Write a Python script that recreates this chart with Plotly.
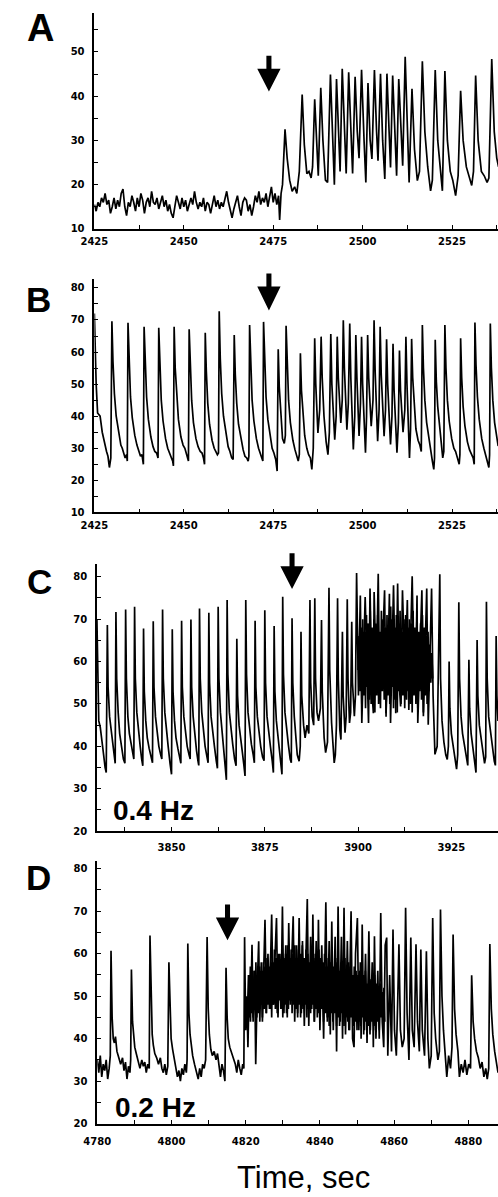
import plotly.graph_objects as go

W, H = 498, 1197

# ---------------- data (time [s], value) ----------------
A_trace = [
    (2425.0, 15.5), (2425.5, 14.0), (2426.0, 16.0), (2426.5, 15.0), (2427.0, 17.0), (2427.5, 16.0), (2428.0, 18.0),
    (2428.5, 15.5), (2429.0, 16.5), (2429.5, 13.5), (2430.0, 15.0), (2430.5, 17.0), (2431.0, 14.5), (2431.5, 16.5),
    (2432.0, 15.0), (2432.5, 18.0), (2433.0, 19.0), (2433.5, 15.0), (2434.0, 13.0), (2434.5, 16.0), (2435.0, 15.0),
    (2435.5, 17.5), (2436.0, 16.0), (2436.5, 14.0), (2437.0, 17.0), (2437.5, 15.0), (2438.0, 18.0), (2438.5, 16.5),
    (2439.0, 13.5), (2439.5, 16.0), (2440.0, 17.0), (2440.5, 15.0), (2441.0, 18.5), (2441.5, 16.0), (2442.0, 15.5),
    (2442.5, 17.0), (2443.0, 14.5), (2443.5, 16.0), (2444.0, 17.5), (2444.5, 15.0), (2445.0, 16.5), (2445.5, 14.0),
    (2446.0, 15.5), (2446.5, 13.5), (2447.0, 12.5), (2447.5, 15.0), (2448.0, 17.5), (2448.5, 16.0), (2449.0, 14.5),
    (2449.5, 17.0), (2450.0, 15.0), (2450.5, 16.5), (2451.0, 14.0), (2451.5, 15.5), (2452.0, 17.0), (2452.5, 15.5),
    (2453.0, 18.5), (2453.5, 16.0), (2454.0, 14.5), (2454.5, 16.0), (2455.0, 15.0), (2455.5, 17.0), (2456.0, 14.0),
    (2456.5, 16.0), (2457.0, 15.5), (2457.5, 13.5), (2458.0, 16.0), (2458.5, 17.5), (2459.0, 15.0), (2459.5, 16.5),
    (2460.0, 14.5), (2460.5, 16.0), (2461.0, 15.0), (2461.5, 17.0), (2462.0, 18.5), (2462.5, 16.0), (2463.0, 14.0),
    (2463.5, 12.5), (2464.0, 14.5), (2464.5, 16.0), (2465.0, 17.5), (2465.5, 15.0), (2466.0, 13.0), (2466.5, 16.0),
    (2467.0, 17.0), (2467.5, 16.5), (2468.0, 14.0), (2468.5, 15.5), (2469.0, 13.0), (2469.5, 15.0), (2470.0, 17.5),
    (2470.5, 16.0), (2471.0, 18.5), (2471.5, 15.5), (2472.0, 17.0), (2472.5, 16.0), (2473.0, 18.0), (2473.5, 15.0),
    (2474.0, 17.5), (2474.5, 19.5), (2475.0, 16.0), (2475.5, 18.0), (2476.0, 15.5), (2476.5, 17.5), (2476.8, 12.0),
    (2477.2, 18.0), (2477.6, 20.0),
    (2478.3, 32.5), (2478.9, 26.0), (2479.6, 21.0), (2480.3, 18.5), (2481.0, 19.5), (2481.6, 18.0), (2482.3, 23.0),
    (2483.1, 40.4), (2483.7, 29.0), (2484.4, 22.5), (2485.0, 23.0), (2485.6, 21.5), (2486.0, 24.0),
    (2486.6, 39.3), (2487.2, 28.0), (2487.6, 22.0),
    (2488.3, 41.9), (2488.9, 30.0), (2489.6, 21.0), (2490.2, 20.5),
    (2491.0, 44.9), (2491.6, 31.0), (2492.1, 20.0),
    (2492.7, 43.9), (2493.3, 30.0), (2493.7, 23.0),
    (2494.3, 46.2), (2494.9, 32.0), (2495.4, 22.5),
    (2496.1, 45.4), (2496.7, 30.0), (2497.2, 22.5),
    (2497.9, 44.4), (2498.5, 32.0), (2499.0, 26.0),
    (2499.7, 46.0), (2500.4, 30.0), (2500.9, 20.5),
    (2501.5, 43.0), (2502.1, 30.0), (2502.6, 25.8),
    (2503.3, 45.9), (2503.9, 32.0), (2504.3, 25.4),
    (2505.0, 45.1), (2505.6, 30.0), (2506.2, 21.3),
    (2506.8, 45.1), (2507.4, 32.0), (2507.8, 23.9),
    (2508.4, 44.7), (2509.0, 30.0), (2509.5, 22.0),
    (2510.1, 43.9), (2510.7, 31.0), (2511.2, 24.3),
    (2511.9, 48.9), (2512.5, 32.0), (2513.0, 20.5),
    (2513.8, 41.7), (2514.5, 28.0), (2515.3, 20.9), (2515.9, 23.0),
    (2516.7, 47.9), (2517.4, 32.0), (2518.2, 24.0), (2519.0, 18.6), (2519.5, 21.0),
    (2520.3, 45.9), (2521.0, 30.0), (2521.8, 22.0), (2522.3, 18.6),
    (2523.0, 45.7), (2523.7, 30.0), (2524.5, 23.0), (2525.2, 21.0), (2526.0, 17.5), (2526.7, 22.0),
    (2527.4, 41.2), (2528.1, 30.0), (2529.0, 24.0), (2529.8, 22.0), (2530.5, 19.8), (2531.0, 23.0),
    (2531.6, 44.7), (2532.3, 30.0), (2533.2, 23.0), (2534.0, 22.0), (2534.8, 20.5), (2535.3, 21.5),
    (2536.1, 48.4), (2536.8, 32.0), (2537.5, 26.0), (2538.0, 24.0),
]

B_trace = [
    (2425.0, 72.0), (2425.2, 62.0), (2425.5, 50.0), (2425.9, 41.0), (2426.6, 40.0), (2427.2, 35.0), (2427.9, 31.0),
    (2428.4, 29.0), (2428.8, 27.5), (2429.2, 24.0), (2429.6, 27.0),
    (2429.9, 69.6), (2430.2, 57.0), (2430.6, 47.0), (2431.1, 40.0), (2431.8, 34.5), (2432.4, 31.0), (2432.8, 30.0),
    (2433.2, 28.0), (2433.6, 27.0), (2434.0, 28.0), (2434.2, 26.0),
    (2434.4, 69.1), (2434.7, 56.0), (2435.1, 46.0), (2435.6, 39.5), (2436.3, 34.0), (2436.9, 31.0), (2437.4, 29.5),
    (2437.9, 27.5), (2438.3, 28.0), (2438.7, 25.0),
    (2438.9, 67.9), (2439.2, 55.0), (2439.6, 46.0), (2440.1, 39.0), (2440.8, 33.5), (2441.4, 30.5), (2441.9, 29.0),
    (2442.4, 28.5), (2442.8, 27.0),
    (2443.0, 67.6), (2443.3, 55.0), (2443.7, 45.0), (2444.2, 38.5), (2444.9, 33.0), (2445.5, 30.0), (2446.0, 28.5),
    (2446.5, 27.0), (2446.9, 26.0), (2447.1, 24.5),
    (2447.3, 67.9), (2447.6, 55.0), (2448.0, 46.0), (2448.5, 39.0), (2449.2, 33.5), (2449.8, 31.0), (2450.3, 30.0),
    (2450.8, 28.0), (2451.3, 26.0),
    (2451.5, 67.1), (2451.8, 55.0), (2452.2, 45.0), (2452.7, 38.0), (2453.4, 33.0), (2454.0, 30.5), (2454.6, 29.0),
    (2455.1, 28.5), (2455.5, 27.0), (2455.8, 25.0),
    (2456.0, 66.0), (2456.3, 54.0), (2456.7, 44.0), (2457.2, 37.5), (2457.9, 32.5), (2458.5, 30.0), (2459.0, 29.0),
    (2459.4, 28.0), (2459.7, 28.5),
    (2459.9, 72.7), (2460.2, 58.0), (2460.6, 47.0), (2461.1, 40.0), (2461.8, 34.0), (2462.4, 30.5), (2462.9, 29.0),
    (2463.4, 27.0), (2463.8, 26.5),
    (2464.1, 65.3), (2464.4, 53.0), (2464.8, 44.0), (2465.3, 37.5), (2466.0, 32.5), (2466.6, 29.5), (2467.1, 27.5),
    (2467.6, 27.0), (2468.0, 26.0), (2468.2, 27.5),
    (2468.4, 68.4), (2468.7, 55.0), (2469.1, 45.0), (2469.6, 38.5), (2470.3, 33.0), (2470.9, 30.0), (2471.4, 28.0),
    (2471.8, 27.0), (2472.1, 26.0),
    (2472.3, 69.4), (2472.6, 56.0), (2473.0, 46.0), (2473.5, 39.0), (2474.2, 33.0), (2474.7, 30.0), (2475.2, 28.5),
    (2475.7, 26.5), (2476.1, 22.9),
    (2476.4, 60.9), (2476.7, 49.0), (2477.1, 40.0), (2477.6, 33.0), (2478.1, 31.5), (2478.4, 34.0),
    (2478.6, 68.2), (2478.9, 55.0), (2479.3, 45.0), (2479.8, 38.0), (2480.5, 32.5), (2481.1, 29.5), (2481.6, 27.5),
    (2482.0, 26.0), (2482.3, 28.0),
    (2482.6, 59.6), (2482.9, 48.0), (2483.3, 40.0), (2483.8, 34.0), (2484.4, 30.0), (2484.9, 28.0), (2485.4, 27.0),
    (2485.8, 23.4), (2486.2, 30.0),
    (2486.6, 64.3), (2486.9, 50.0), (2487.5, 34.8), (2488.0, 42.0),
    (2488.4, 64.8), (2488.7, 52.0), (2489.2, 40.0), (2489.8, 32.0), (2490.3, 28.0), (2490.7, 35.0),
    (2491.1, 65.6), (2491.4, 50.0), (2492.2, 32.7), (2492.6, 40.0),
    (2492.9, 64.8), (2493.2, 52.0), (2493.9, 37.9), (2494.3, 45.0),
    (2494.6, 69.9), (2494.9, 55.0), (2495.6, 35.8), (2496.0, 44.0),
    (2496.4, 68.9), (2496.7, 52.0), (2497.4, 29.6), (2497.8, 40.0),
    (2498.1, 65.3), (2498.4, 52.0), (2499.0, 33.8), (2499.4, 44.0),
    (2499.7, 64.8), (2500.0, 50.0), (2500.8, 28.6), (2501.1, 40.0),
    (2501.4, 65.3), (2501.7, 52.0), (2502.4, 36.9), (2502.9, 45.0),
    (2503.2, 69.9), (2503.5, 54.0), (2504.2, 32.2), (2504.6, 42.0),
    (2504.9, 67.9), (2505.2, 53.0), (2506.0, 33.8), (2506.4, 42.0),
    (2506.7, 64.0), (2507.0, 50.0), (2507.8, 31.2), (2508.2, 40.0),
    (2508.5, 62.6), (2508.8, 48.0), (2509.6, 28.6), (2510.0, 38.0),
    (2510.3, 60.5), (2510.6, 48.0), (2511.3, 35.0), (2511.8, 42.0),
    (2512.1, 64.8), (2512.4, 50.0), (2513.1, 27.0), (2513.4, 36.0),
    (2513.7, 64.1), (2514.0, 52.0), (2514.4, 43.0), (2514.9, 36.0), (2515.5, 32.5), (2516.0, 31.0), (2516.4, 29.0),
    (2516.7, 68.4), (2517.0, 55.0), (2517.4, 45.0), (2517.9, 38.0), (2518.5, 33.0), (2519.0, 30.5), (2519.5, 26.0),
    (2519.9, 23.4), (2520.1, 27.0),
    (2520.3, 63.8), (2520.6, 51.0), (2521.0, 43.0), (2521.5, 36.5), (2522.0, 31.0), (2522.4, 27.0), (2522.7, 29.0),
    (2523.0, 68.4), (2523.3, 55.0), (2523.7, 45.0), (2524.2, 38.5), (2524.9, 33.0), (2525.5, 30.0), (2526.0, 29.0),
    (2526.5, 27.0), (2527.0, 25.0), (2527.2, 28.0),
    (2527.4, 64.3), (2527.7, 52.0), (2528.1, 43.0), (2528.6, 37.0), (2529.3, 32.0), (2529.9, 29.5), (2530.4, 28.0),
    (2530.9, 27.0), (2531.2, 25.0),
    (2531.4, 69.2), (2531.7, 56.0), (2532.1, 46.0), (2532.6, 39.0), (2533.3, 33.0), (2533.9, 30.0), (2534.4, 28.0),
    (2534.9, 26.0), (2535.3, 24.0), (2535.5, 28.0),
    (2535.7, 68.9), (2536.0, 55.0), (2536.4, 45.0), (2536.9, 38.0), (2537.5, 33.0), (2537.9, 30.7),
]

C_trace = [
    (3830.0, 70.0), (3830.2, 55.0), (3830.5, 46.0), (3830.9, 44.5), (3831.3, 42.0), (3831.8, 38.0), (3832.2, 35.0), (3832.5, 33.8),
    (3832.8, 68.6), (3833.0, 54.0), (3833.4, 47.0), (3833.8, 44.0), (3834.2, 40.0), (3834.6, 37.5), (3834.9, 36.0),
    (3835.1, 71.7), (3835.3, 56.0), (3835.7, 48.0), (3836.1, 43.0), (3836.6, 40.0), (3837.1, 37.0), (3837.5, 36.0),
    (3837.7, 72.3), (3837.9, 56.0), (3838.3, 47.0), (3838.7, 43.0), (3839.2, 40.0), (3839.6, 38.0), (3839.9, 37.0),
    (3840.1, 72.9), (3840.3, 56.0), (3840.7, 48.0), (3841.1, 43.5), (3841.6, 40.0), (3842.0, 37.0), (3842.3, 35.4),
    (3842.5, 67.8), (3842.7, 53.0), (3843.1, 46.0), (3843.5, 42.0), (3844.0, 39.5), (3844.5, 37.5), (3844.9, 36.1),
    (3845.1, 69.5), (3845.3, 54.0), (3845.7, 47.0), (3846.1, 43.0), (3846.6, 40.0), (3847.1, 38.0), (3847.4, 37.0),
    (3847.6, 72.3), (3847.8, 56.0), (3848.2, 48.0), (3848.6, 43.5), (3849.1, 40.0), (3849.6, 36.0), (3850.0, 33.4),
    (3850.2, 67.6), (3850.4, 53.0), (3850.8, 46.0), (3851.2, 42.0), (3851.7, 39.5), (3852.2, 37.0), (3852.5, 36.0),
    (3852.7, 69.6), (3852.9, 54.0), (3853.3, 47.0), (3853.7, 43.0), (3854.2, 40.0), (3854.7, 38.0), (3855.0, 37.0),
    (3855.2, 69.9), (3855.4, 54.0), (3855.8, 47.0), (3856.2, 42.5), (3856.7, 39.0), (3857.1, 36.5), (3857.3, 35.5),
    (3857.5, 72.5), (3857.7, 56.0), (3858.1, 48.0), (3858.5, 43.5), (3859.0, 40.0), (3859.5, 37.5), (3859.8, 36.1),
    (3860.0, 71.5), (3860.2, 55.0), (3860.6, 47.0), (3861.0, 43.0), (3861.5, 40.0), (3862.0, 36.5), (3862.3, 34.8),
    (3862.5, 72.9), (3862.7, 56.0), (3863.1, 48.0), (3863.5, 43.5), (3864.0, 40.0), (3864.4, 35.0), (3864.7, 32.1),
    (3864.9, 74.5), (3865.1, 57.0), (3865.5, 48.0), (3865.9, 44.0), (3866.4, 40.5), (3866.9, 37.0), (3867.3, 35.4),
    (3867.5, 65.4), (3867.7, 52.0), (3868.1, 45.0), (3868.5, 41.5), (3869.0, 38.5), (3869.4, 35.5), (3869.7, 33.0),
    (3869.9, 74.5), (3870.1, 57.0), (3870.5, 48.0), (3870.9, 44.0), (3871.4, 40.5), (3871.9, 38.0), (3872.2, 36.1),
    (3872.4, 69.6), (3872.6, 54.0), (3873.0, 47.0), (3873.4, 43.0), (3873.9, 40.0), (3874.4, 37.5), (3874.8, 36.6),
    (3875.0, 72.1), (3875.2, 55.0), (3875.6, 47.0), (3876.0, 43.0), (3876.5, 40.0), (3877.0, 36.5), (3877.3, 33.8),
    (3877.5, 68.4), (3877.7, 53.0), (3878.1, 46.0), (3878.5, 42.5), (3879.0, 39.0), (3879.4, 35.0), (3879.6, 33.4),
    (3879.8, 75.3), (3880.0, 57.0), (3880.4, 48.0), (3880.8, 44.0), (3881.3, 40.5), (3881.8, 37.0), (3882.1, 36.1),
    (3882.3, 70.2), (3882.5, 55.0), (3882.9, 47.0), (3883.3, 43.0), (3883.7, 38.0), (3884.2, 36.5), (3884.5, 40.0),
    (3884.7, 67.0), (3884.9, 52.0), (3885.4, 45.0), (3885.8, 42.0), (3886.3, 45.0), (3886.8, 43.0),
    (3887.1, 74.5), (3887.3, 55.0), (3887.7, 47.0), (3888.1, 45.0),
    (3888.4, 74.9), (3888.6, 56.0), (3889.0, 48.0), (3889.4, 46.0), (3889.9, 49.0),
    (3890.2, 69.8), (3890.4, 53.0), (3890.9, 42.0), (3891.3, 38.5), (3891.8, 41.0),
    (3892.2, 77.4), (3892.4, 58.0), (3892.9, 45.5), (3893.3, 40.0), (3893.6, 36.1), (3893.9, 38.0), (3894.2, 45.0),
    (3894.5, 74.9), (3894.7, 56.0), (3895.1, 44.0), (3895.4, 41.6),
    (3895.8, 67.0), (3896.0, 52.0), (3896.5, 43.2), (3896.8, 47.0),
    (3897.1, 74.7), (3897.3, 56.0), (3897.7, 45.5), (3898.0, 48.0),
    (3898.3, 69.4), (3898.5, 55.0), (3899.0, 47.1), (3899.3, 52.0),
    (3899.6, 80.9), (3900.1, 52.0), (3900.6, 75.6), (3901.0, 45.5), (3901.9, 75.2), (3902.4, 55.0), (3902.8, 45.5),
    (3903.2, 77.2), (3903.7, 53.0), (3904.1, 47.8), (3904.3, 76.4), (3904.9, 55.0), (3905.4, 80.7), (3905.8, 50.9),
    (3906.5, 62.0), (3907.1, 76.8), (3907.5, 47.8), (3908.0, 60.0), (3908.4, 76.0), (3908.7, 45.5), (3909.5, 78.0),
    (3910.1, 47.8), (3910.6, 78.4), (3911.0, 55.0), (3911.4, 49.4), (3911.9, 76.8), (3912.6, 55.0), (3913.2, 74.5),
    (3913.6, 48.6), (3914.5, 80.1), (3915.0, 54.0), (3915.5, 60.0), (3915.8, 75.6), (3916.0, 45.5), (3917.1, 76.8),
    (3917.5, 47.1), (3918.4, 77.2), (3918.8, 45.1), (3919.7, 77.2), (3920.1, 52.0), (3920.6, 38.1), (3921.2, 40.0),
    (3921.9, 80.6), (3922.1, 56.0), (3922.5, 46.0), (3923.0, 41.0), (3923.5, 38.0), (3923.9, 36.9), (3924.2, 40.0),
    (3924.4, 60.0), (3924.6, 49.0), (3925.0, 43.0), (3925.5, 40.0), (3926.0, 37.0), (3926.4, 34.6), (3926.7, 38.0),
    (3927.0, 74.0), (3927.2, 56.0), (3927.6, 47.0), (3928.0, 43.0), (3928.5, 40.0), (3929.0, 37.0), (3929.4, 35.5),
    (3929.7, 60.4), (3929.9, 49.0), (3930.3, 43.0), (3930.8, 39.0), (3931.3, 35.0), (3931.6, 33.8),
    (3931.9, 65.1), (3932.1, 52.0), (3932.5, 45.0), (3933.0, 41.0), (3933.5, 38.5), (3933.9, 36.0), (3934.2, 37.5),
    (3934.4, 74.1), (3934.6, 56.0), (3935.0, 47.0), (3935.5, 43.0), (3936.0, 40.0), (3936.5, 36.5), (3936.8, 35.5),
    (3937.0, 66.0), (3937.2, 52.0), (3937.5, 46.0),
]
# fast (unresolved) oscillation during the dense burst, sampled every 0.25 s from 3900.0 s
C_fast_start, C_fast_step = 3900.0, 0.25
C_fast_vals = [
    58, 66, 53, 68, 50, 70, 52, 67, 49, 71, 54, 69, 51, 72, 50, 68, 53, 70, 48, 69,
    52, 71, 50, 67, 49, 72, 53, 70, 51, 68, 47, 71, 52, 69, 50, 73, 54, 70, 49, 68,
    51, 71, 48, 69, 53, 72, 50, 67, 52, 70, 49, 71, 51, 68, 53, 70, 50, 69, 48, 72,
    52, 68, 50, 70, 49, 67, 53, 69, 51, 71, 48, 68, 52, 66, 50, 67, 53, 64, 55, 62, 56,
]

D_trace = [
    (4780.0, 35.0), (4780.4, 32.0), (4780.8, 36.0), (4781.2, 31.0), (4781.6, 34.0), (4782.0, 32.5), (4782.4, 35.0),
    (4782.8, 30.5), (4783.2, 33.0), (4783.5, 36.0),
    (4783.7, 60.7), (4784.0, 45.0), (4784.3, 40.0), (4784.6, 39.0), (4784.9, 40.5), (4785.3, 37.0), (4785.8, 35.5),
    (4786.3, 34.0), (4786.8, 35.5), (4787.2, 32.5), (4787.6, 34.5), (4788.0, 30.5), (4788.4, 33.5), (4788.8, 32.0),
    (4789.0, 35.0),
    (4789.2, 56.3), (4789.5, 44.0), (4789.8, 41.0), (4790.1, 38.0), (4790.5, 36.5), (4791.0, 35.0), (4791.5, 33.0),
    (4792.0, 35.0), (4792.4, 33.5), (4792.8, 34.5), (4793.2, 32.0), (4793.6, 34.0), (4794.0, 33.0),
    (4794.2, 64.3), (4794.5, 48.0), (4794.8, 41.0), (4795.1, 38.5), (4795.5, 36.5), (4796.0, 35.5), (4796.5, 34.0),
    (4797.0, 35.5), (4797.4, 33.0), (4797.8, 32.0), (4798.2, 34.0), (4798.6, 31.5), (4799.0, 33.5),
    (4799.3, 58.0), (4799.6, 45.0), (4799.9, 40.0), (4800.3, 37.5), (4800.7, 35.0), (4801.2, 33.0), (4801.6, 31.0),
    (4802.0, 32.5), (4802.4, 30.0), (4802.8, 33.0), (4803.2, 31.5), (4803.6, 34.0), (4804.0, 32.0), (4804.2, 35.0),
    (4804.4, 62.4), (4804.7, 46.0), (4805.0, 41.0), (4805.3, 38.0), (4805.7, 36.0), (4806.2, 34.0), (4806.7, 32.0),
    (4807.2, 30.5), (4807.6, 33.0), (4808.0, 31.0), (4808.4, 34.0), (4808.8, 33.0), (4809.2, 35.0),
    (4809.6, 63.9), (4809.9, 47.0), (4810.2, 41.0), (4810.6, 37.5), (4811.0, 36.0), (4811.5, 37.0), (4812.0, 35.0),
    (4812.4, 36.5), (4812.8, 33.5), (4813.2, 31.0), (4813.6, 34.0), (4814.0, 32.5), (4814.4, 30.0),
    (4814.7, 56.7), (4815.0, 45.0), (4815.3, 40.0), (4815.7, 38.0), (4816.2, 36.5), (4816.7, 35.0), (4817.2, 34.0),
    (4817.6, 32.0), (4818.0, 35.0), (4818.4, 33.0), (4818.8, 31.5), (4819.2, 34.0), (4819.5, 33.0),
    (4819.7, 63.9), (4820.0, 42.0), (4820.3, 50.0), (4820.6, 38.0), (4821.0, 55.0), (4821.3, 44.0), (4821.7, 62.1),
    (4822.0, 45.0), (4822.4, 56.0), (4822.7, 34.0), (4823.1, 52.0), (4823.5, 62.9), (4823.8, 44.0), (4824.2, 58.0),
    (4824.5, 44.0), (4825.2, 68.0), (4825.6, 46.0), (4826.0, 60.0), (4826.4, 47.0), (4827.0, 69.2), (4827.4, 48.0),
    (4827.9, 62.0), (4828.3, 68.4), (4828.7, 45.0), (4829.2, 60.0), (4829.5, 47.0), (4829.9, 71.1), (4830.3, 46.0),
    (4830.8, 62.0), (4831.2, 45.0), (4831.6, 67.2), (4832.0, 48.0), (4832.4, 60.0), (4832.8, 68.8), (4833.2, 44.0),
    (4833.7, 62.0), (4834.0, 46.0), (4834.4, 68.4), (4834.8, 45.0), (4835.3, 63.0), (4835.8, 43.0), (4836.2, 60.0),
    (4836.6, 72.9), (4837.0, 43.0), (4837.5, 64.0), (4837.8, 47.0), (4838.1, 69.2), (4838.5, 44.0), (4839.0, 63.0),
    (4839.3, 45.0), (4839.6, 68.0), (4840.0, 42.0), (4840.5, 62.0), (4841.0, 40.0), (4841.6, 72.1), (4842.0, 44.0),
    (4842.5, 63.0), (4842.8, 41.0), (4843.2, 67.6), (4843.6, 42.0), (4844.1, 64.0), (4844.5, 37.0), (4844.9, 71.1),
    (4845.3, 43.0), (4845.8, 64.0), (4846.1, 40.0), (4846.5, 70.8), (4846.9, 41.0), (4847.4, 63.0), (4847.8, 42.0),
    (4848.4, 70.0), (4848.8, 40.0), (4849.2, 38.0), (4849.6, 60.0), (4850.1, 68.4), (4850.5, 42.0), (4850.9, 58.0),
    (4851.1, 40.0), (4851.4, 66.9), (4851.8, 41.0), (4852.3, 60.0), (4852.7, 39.0), (4853.2, 65.3), (4853.6, 42.0),
    (4854.1, 58.0), (4854.4, 38.0), (4854.7, 64.1), (4855.1, 40.0), (4855.6, 56.0), (4856.0, 40.0), (4856.4, 69.6),
    (4856.8, 44.0), (4857.2, 38.0), (4857.6, 62.0), (4858.0, 63.8), (4858.3, 36.0), (4858.8, 55.0), (4859.3, 37.0),
    (4859.7, 65.7), (4860.1, 42.0), (4860.6, 36.0), (4861.0, 50.0), (4861.3, 62.2), (4861.7, 42.0), (4862.2, 38.0),
    (4862.7, 40.0), (4863.1, 70.8), (4863.5, 46.0), (4864.0, 35.0), (4864.5, 63.8), (4864.9, 42.0), (4865.4, 38.0),
    (4865.9, 62.2), (4866.3, 44.0), (4866.8, 37.0), (4867.2, 61.0), (4867.6, 42.0), (4868.2, 36.0), (4868.7, 60.6),
    (4869.1, 40.0), (4869.5, 33.0), (4870.0, 36.0),
    (4870.4, 68.4), (4870.8, 46.0), (4871.2, 40.0), (4871.8, 35.0), (4872.2, 37.0),
    (4872.5, 70.4), (4872.9, 50.0), (4873.3, 42.0), (4873.8, 37.0), (4874.2, 31.0), (4874.7, 36.0), (4875.2, 33.0),
    (4875.6, 38.0),
    (4875.9, 64.5), (4876.3, 47.0), (4876.7, 41.0), (4877.2, 37.0), (4877.6, 31.0), (4878.1, 34.0), (4878.6, 32.0),
    (4879.1, 35.0), (4879.6, 31.5), (4880.1, 34.0), (4880.6, 33.0),
    (4880.9, 54.9), (4881.3, 44.0), (4881.7, 40.0), (4882.2, 37.0), (4882.7, 35.5), (4883.2, 33.0), (4883.7, 34.5),
    (4884.2, 31.0), (4884.7, 33.0), (4885.1, 30.5), (4885.5, 33.0),
    (4885.8, 62.3), (4886.2, 47.0), (4886.6, 41.0), (4887.1, 37.0), (4887.6, 34.0), (4888.0, 32.0),
]
# fast (unresolved) oscillation during the dense burst, sampled every 0.25 s from 4820.5 s
D_fast_start, D_fast_step = 4820.5, 0.25
D_fast_vals = [
    47, 55, 45, 57, 46, 54, 44, 56, 47, 58, 45, 55, 46, 57, 48, 56, 45, 58, 47, 57,
    46, 59, 48, 57, 47, 60, 45, 58, 48, 61, 47, 59, 46, 60, 49, 58, 47, 61, 45, 59,
    48, 60, 46, 62, 47, 59, 49, 61, 46, 60, 48, 62, 47, 59, 45, 61, 48, 60, 46, 62,
    47, 59, 48, 61, 45, 60, 47, 58, 46, 61, 48, 59, 44, 60, 47, 58, 46, 61, 45, 59,
    47, 58, 44, 60, 46, 57, 45, 59, 43, 58, 46, 60, 44, 57, 46, 59, 43, 58, 45, 56,
    44, 58, 46, 57, 43, 59, 45, 56, 44, 58, 42, 57, 45, 55, 43, 57, 44, 56, 42, 55,
    44, 56, 43, 54, 45, 55, 42, 56, 44, 53, 43, 55, 41, 54, 44, 52, 43, 55, 42, 53,
    44, 52, 42, 53, 45, 51, 43, 52, 44,
]

ARROW_T = {"A": 2473.8, "B": 2473.8, "C": 3882.3, "D": 4815.1}
PANEL_LETTERS = ["A", "B", "C", "D"]
FREQ_LABELS = {"C": "0.4 Hz", "D": "0.2 Hz"}
X_TITLE = "Time, sec"

# ---------------- layout geometry (pixels in the 498 x 1197 page) ----------------
geom = {
    "A": dict(x0=82.7, x1=498, ytop=12.7, ybot=230.0, xr=[2425, 2537.85], yr=[10, 58.9],
              xd=25, xm=12.5, xt0=2425, yd=10, ym=5, yt0=10, xso=2,
              arrow=(56, 69, 92), letter=(27, 28, 38)),
    "B": dict(x0=82.7, x1=498, ytop=280.0, ybot=515.0, xr=[2425, 2537.85], yr=[10, 82.9],
              xd=25, xm=12.5, xt0=2425, yd=10, ym=5, yt0=10, xso=3,
              arrow=(275, 288, 312), letter=(25, 301, 35)),
    "C": dict(x0=85.3, x1=498, ytop=567.3, ybot=835.3, xr=[3830, 3937.5], yr=[20, 82.9],
              xd=25, xm=12.5, xt0=3850, yd=10, ym=5, yt0=20, xso=6,
              arrow=(556, 569, 592), letter=(26, 584, 35)),
    "D": dict(x0=85.7, x1=498, ytop=865.0, ybot=1129.3, xr=[4780, 4888.0], yr=[20, 81.9],
              xd=20, xm=10, xt0=4780, yd=10, ym=5, yt0=20, xso=8,
              arrow=(909, 922, 945), letter=(25, 882, 35)),
}
traces = {"A": A_trace, "B": B_trace, "C": C_trace, "D": D_trace}
fast = {"C": (C_fast_start, C_fast_step, C_fast_vals), "D": (D_fast_start, D_fast_step, D_fast_vals)}

tickfont = dict(family="DejaVu Sans", size=10, color="black", weight="bold")
LINE = dict(color="black", width=1.7)

fig = go.Figure()
shapes, annotations = [], []
layout_axes = {}

for i, key in enumerate(PANEL_LETTERS):
    g = geom[key]
    n = "" if i == 0 else str(i + 1)
    xa, ya = "x" + n, "y" + n
    if key in fast:
        t0, dt, vals = fast[key]
        fig.add_trace(go.Scatter(x=[t0 + k * dt for k in range(len(vals))], y=vals, mode="lines",
                                 line=LINE, xaxis=xa, yaxis=ya, showlegend=False))
    tr = traces[key]
    fig.add_trace(go.Scatter(x=[p[0] for p in tr], y=[p[1] for p in tr], mode="lines",
                             line=LINE, xaxis=xa, yaxis=ya, showlegend=False))

    layout_axes["xaxis" + n] = dict(
        domain=[g["x0"] / W, g["x1"] / W], range=g["xr"], anchor=ya,
        showline=True, linecolor="black", linewidth=1.6, mirror=False,
        showgrid=False, zeroline=False,
        ticks="inside", ticklen=4, tickwidth=1.2, tickcolor="black",
        tick0=g["xt0"], dtick=g["xd"], tickfont=tickfont, ticklabelstandoff=g["xso"],
        minor=dict(ticks="inside", ticklen=4, tickwidth=1.2, tickcolor="black", dtick=g["xm"], showgrid=False),
    )
    layout_axes["yaxis" + n] = dict(
        domain=[1 - g["ybot"] / H, 1 - g["ytop"] / H], range=g["yr"], anchor=xa,
        showline=True, linecolor="black", linewidth=1.6, mirror=False,
        showgrid=False, zeroline=False,
        ticks="inside", ticklen=4, tickwidth=1.2, tickcolor="black",
        tick0=g["yt0"], dtick=g["yd"], tickfont=tickfont, ticklabelstandoff=6,
        minor=dict(ticks="inside", ticklen=4, tickwidth=1.2, tickcolor="black", dtick=g["ym"], showgrid=False),
    )

    # arrow marking stimulus onset
    t = ARROW_T[key]
    xpx = g["x0"] + (t - g["xr"][0]) / (g["xr"][1] - g["xr"][0]) * (g["x1"] - g["x0"])
    ys, yh, yt = g["arrow"]
    sw, hw = 2.6, 12.0

    def P(px, py):
        return f"{px / W:.5f},{1 - py / H:.5f}"

    path = ("M " + P(xpx - sw, ys) + " L " + P(xpx + sw, ys) + " L " + P(xpx + sw, yh) + " L " +
            P(xpx + hw, yh) + " L " + P(xpx, yt) + " L " + P(xpx - hw, yh) + " L " + P(xpx - sw, yh) + " Z")
    shapes.append(dict(type="path", path=path, xref="paper", yref="paper",
                       fillcolor="black", line=dict(width=0)))

    lx, ly, ls = g["letter"]
    annotations.append(dict(text=key, x=lx / W, y=1 - ly / H, xref="paper", yref="paper",
                            xanchor="center", yanchor="middle", showarrow=False,
                            font=dict(family="Liberation Sans", size=ls, color="black", weight="bold")))

annotations.append(dict(text=FREQ_LABELS["C"], x=144 / W, y=1 - 815 / H, xref="paper", yref="paper",
                        xanchor="center", yanchor="middle", showarrow=False,
                        font=dict(family="Liberation Sans", size=28, color="black", weight="bold")))
annotations.append(dict(text=FREQ_LABELS["D"], x=146 / W, y=1 - 1113 / H, xref="paper", yref="paper",
                        xanchor="center", yanchor="middle", showarrow=False,
                        font=dict(family="Liberation Sans", size=28, color="black", weight="bold")))
annotations.append(dict(text=X_TITLE, x=298 / W, y=1 - 1183 / H, xref="paper", yref="paper",
                        xanchor="center", yanchor="middle", showarrow=False,
                        font=dict(family="Liberation Sans", size=31, color="black")))

fig.update_layout(
    width=W, height=H, margin=dict(l=0, r=0, t=0, b=0),
    paper_bgcolor="white", plot_bgcolor="white", showlegend=False,
    shapes=shapes, annotations=annotations, **layout_axes,
)

fig.write_html("out.html", config={"displayModeBar": False},
               post_script="document.body.style.margin='0';document.body.style.overflow='hidden';")
